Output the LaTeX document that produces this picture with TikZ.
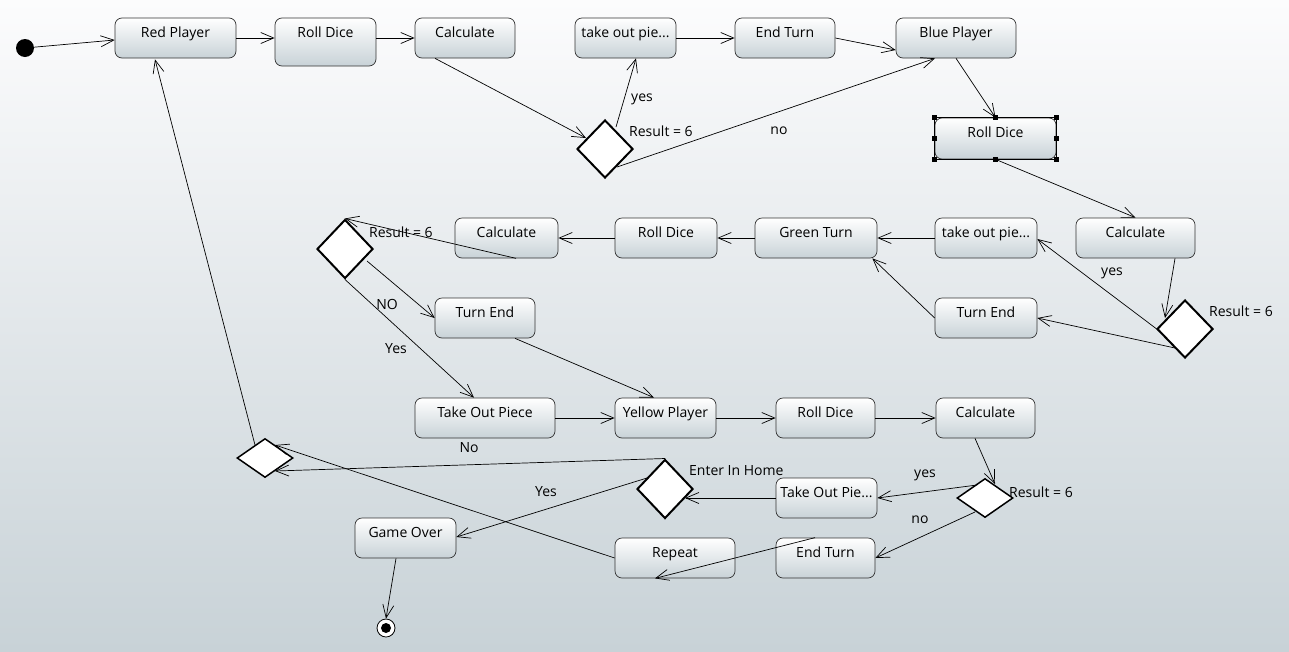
\documentclass[tikz,border=0pt]{standalone}
\usepackage{fontspec}
\setmainfont{Open Sans}
\usetikzlibrary{arrows.meta,shapes.geometric,calc}
\definecolor{bgtop}{RGB}{252,252,253}
\definecolor{bgbot}{RGB}{200,210,215}
\definecolor{ndbot}{RGB}{200,210,215}
\newcommand\dfont{\fontsize{14}{16}\selectfont}
\begin{document}
\begin{tikzpicture}[x=1pt,y=-1pt,
  st/.style={draw=black!80, line width=0.7pt, rounded corners=7pt, top color=white, bottom color=ndbot,
     minimum width=#1, inner xsep=2pt, inner ysep=0pt, text height=19pt, text depth=21pt, font=\dfont},
  dm/.style={diamond, draw, fill=white, line width=2pt, inner sep=0pt, minimum width=56pt, minimum height=58pt},
  dmf/.style={dm, minimum height=39pt, line width=1.5pt},
  ar/.style={-{Straight Barb[length=13pt,width=11pt]}, line width=0.7pt},
  lb/.style={font=\dfont, inner sep=0pt}]
\useasboundingbox (0,0) rectangle (1289,651);
\fill[top color=bgtop, bottom color=bgbot] (0,0) rectangle (1289,651);
% nodes
\node[circle, fill=black, minimum size=18pt, inner sep=0pt] (init) at (25,48) {};
\node[st=121pt] (rp) at (175.5,38) {Red Player};
\node[st=101pt, text depth=29pt] (rd1) at (325.5,42) {Roll Dice};
\node[st=100pt] (c1) at (465,38) {Calculate};
\node[st=101pt] (to1) at (625.5,38) {take out pie...};
\node[st=100pt] (et1) at (785,38) {End Turn};
\node[st=120pt] (bp) at (956,38) {Blue Player};
\node[st=121pt, text depth=22pt] (rd2) at (995.5,138.5) {Roll Dice};
\node[st=119pt] (c2) at (1135.5,238) {Calculate};
\node[st=102pt] (to2) at (986,238) {take out pie...};
\node[st=102pt] (te2) at (986,318) {Turn End};
\node[st=122pt] (gt) at (816,238) {Green Turn};
\node[st=102pt] (rd3) at (666,238) {Roll Dice};
\node[st=103pt] (c3) at (506.5,238) {Calculate};
\node[st=100pt] (te3) at (485,318) {Turn End};
\node[st=140pt] (top) at (485,418) {Take Out Piece};
\node[st=101pt] (yp) at (665.5,418) {Yellow Player};
\node[st=99pt] (rd4) at (825.5,418) {Roll Dice};
\node[st=99pt] (c4) at (985.5,418) {Calculate};
\node[st=101pt] (to4) at (826.5,498) {Take Out Pie...};
\node[st=99pt] (et4) at (825.5,558) {End Turn};
\node[st=120pt] (rpt) at (675,558) {Repeat};
\node[st=101pt] (go) at (405.5,538) {Game Over};
\node[circle, draw, fill=white, line width=0.8pt, minimum size=18pt, inner sep=0pt] (fin) at (386,628) {};
\node[circle, fill=black, minimum size=10pt, inner sep=0pt] (finin) at (fin) {};
% selection on rd2
\draw[line width=1.3pt] (rd2.north west) rectangle (rd2.south east);
\foreach \a in {north west,north,north east,east,south east,south,south west,west}
  \fill (rd2.\a) ++(-2.5,-2.5) rectangle ++(5,5);
% diamonds
\node[dm] (d1) at (605,149) {};
\node[dm] (d2) at (1185,329) {};
\node[dm, minimum height=59pt] (d3) at (345,249) {};
\node[dmf] (d4) at (985,498) {};
\node[dm, minimum height=59pt] (de) at (665,489) {};
\node[dmf] (dl) at (265,458) {};
% edges
\draw[ar] (init) -- ($(rp.west)+(0,2)$);
\draw[ar] (rp.east) -- (rp.east -| rd1.west);
\draw[ar] (rd1.east |- c1.west) -- (c1.west);
\draw[ar] ($(c1.south)+(-30,0)$) -- ($(d1)+(-19,-11)$);
\draw[ar] ($(d1)+(11,-22)$) -- ($(to1.south)+(10.5,0)$);
\draw[ar] (to1.east) -- (et1.west);
\draw[ar] (et1.east) -- ($(bp.west)+(0,12)$);
\draw[ar] ($(d1)+(12,18)$) -- ($(bp.south)+(-21,0)$);
\draw[ar] (bp.south) -- (rd2.north);
\draw[ar] (rd2.south) -- (c2.north);
\draw[ar] ($(c2.south)+(39.5,0)$) -- ($(d2)+(-20,-11)$);
\draw[ar] ($(d2)+(-23,4)$) -- ($(to2.east)+(0,1)$);
\draw[ar] ($(d2)+(-10,19)$) -- (te2.east);
\draw[ar] (te2.west) -- ($(gt.south east)+(-5,0)$);
\draw[ar] (to2.west) -- (gt.east);
\draw[ar] (gt.west) -- (rd3.east);
\draw[ar] (rd3.west) -- (c3.east);
\draw[ar] ($(c3.south)+(9.5,0)$) -- (d3.north);
\draw[ar] ($(d3)+(22,12)$) -- (te3.west);
\draw[ar] (d3.south) -- ($(top.north)+(-11,0)$);
\draw[ar] ($(te3.south)+(30,0)$) -- ($(yp.north)+(-11.5,0)$);
\draw[ar] (top.east) -- (yp.west);
\draw[ar] (yp.east) -- (rd4.west);
\draw[ar] (rd4.east) -- (c4.west);
\draw[ar] ($(c4.south)+(-10.5,0)$) -- ($(d4)+(10,-14)$);
\draw[ar] ($(d4)+(-8,-13)$) -- (to4.east);
\draw[ar] ($(d4)+(-10,14)$) -- (et4.east);
\draw[ar] ($(et4.north)+(-10.5,0)$) -- ($(rpt.south)+(-20,0)$);
\draw[ar] (to4.west) -- ($(de)+(20,9)$);
\draw[ar] (de.north) -- ($(dl)+(10,13)$);
\draw[ar] ($(de)+(-18,-11)$) -- ($(go.east)+(0,-1)$);
\draw[ar] (rpt.west) -- ($(dl)+(10,-13)$);
\draw[ar] ($(dl)+(-10,-13)$) -- ($(rp.south)+(-20.5,1)$);
\draw[ar] ($(go.south)+(-9.5,0)$) -- (fin.north);
% labels
\node[lb] (l1) at (642,99) {yes};
\node[lb, anchor=west] (l2) at (629,131) {Result = 6};
\node[lb] (l3) at (779,131) {no};
\node[lb] (l4) at (1112,273) {yes};
\node[lb, anchor=west] (l5) at (1209,311) {Result = 6};
\node[lb, anchor=west] (l6) at (369,232) {Result = 6};
\node[lb] (l7) at (387,304) {NO};
\node[lb] (l8) at (396,349) {Yes};
\node[lb] (l9) at (469,448) {No};
\node[lb, anchor=west] (l10) at (689,471) {Enter In Home};
\node[lb] (l11) at (546,492) {Yes};
\node[lb] (l12) at (925,475) {yes};
\node[lb, anchor=west] (l13) at (1009,492) {Result = 6};
\node[lb] (l14) at (920,520) {no};
\end{tikzpicture}
\end{document}
